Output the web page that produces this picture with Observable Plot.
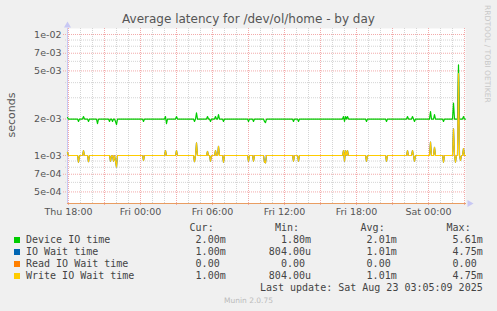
<!DOCTYPE html>
<html><head><meta charset="utf-8">
<script src="https://cdn.jsdelivr.net/npm/d3@7"></script>
<script src="https://cdn.jsdelivr.net/npm/@observablehq/plot@0.6"></script>
<style>
html,body{margin:0;padding:0;background:#f0f0f0;}
#chart{position:relative;width:497px;height:311px;overflow:hidden;background:#f0f0f0;font-family:"DejaVu Sans",sans-serif;}
.abs{position:absolute;white-space:pre;}
.mono{font-family:"DejaVu Sans Mono",monospace;font-size:10px;line-height:12px;color:#444;}
#chart svg{position:absolute;left:0;top:0;}
</style></head><body><div id="chart"></div>
<script>
// ---------- texts ----------
const title = "Average latency for /dev/ol/home - by day";
const yLabel = "seconds";
const credit = "RRDTOOL / TOBI OETIKER";
const footer = "Munin 2.0.75";
const lastUpdate = "Last update: Sat Aug 23 03:05:09 2025";

// ---------- time axis ----------
const startTime = "2025-08-21T17:55:00Z";   // first sample
const endTime = "2025-08-23T03:05:00Z";     // last sample
const stepMinutes = 5;
const xTickTimes = ["2025-08-21T18:00:00Z","2025-08-22T00:00:00Z","2025-08-22T06:00:00Z","2025-08-22T12:00:00Z","2025-08-22T18:00:00Z","2025-08-23T00:00:00Z"];
const xTickLabels = ["Thu 18:00","Fri 00:00","Fri 06:00","Fri 12:00","Fri 18:00","Sat 00:00"];

// ---------- value axis (log) ----------
const yTickValues = [1e-2, 7e-3, 5e-3, 2e-3, 1e-3, 7e-4, 5e-4];
const yTickLabels = ["1e-02","7e-03","5e-03","2e-03","1e-03","7e-04","5e-04"];
const yMinorValues = [9e-3, 8e-3, 6e-3, 4e-3, 3e-3, 9e-4, 8e-4, 6e-4];

// ---------- legend ----------
const seriesNames = ["Device IO time","IO Wait time","Read IO Wait time","Write IO Wait time"];
const seriesColors = ["#00CC00","#0066B3","#FF8000","#FFCC00"];
const curVals = ["2.00m","1.00m","0.00 ","1.00m"];
const minVals = ["1.80m","804.00u","0.00 ","804.00u"];
const avgVals = ["2.01m","1.01m","0.00 ","1.01m"];
const maxVals = ["5.61m","4.75m","0.00 ","4.75m"];

// ---------- series: [sample index (5 min steps from start), milliseconds] ----------
const deviceIO = [[0,2.06],[1,2.00],[10,2.00],[11,1.91],[12,2.00],[15,2.00],[16,2.10],[17,2.00],[20,2.00],[21,1.91],[22,2.00],[29,2.00],[30,1.83],[31,2.00],[41,2.00],[42,1.91],[43,2.00],[44,2.00],[45,1.91],[46,2.00],[47,2.00],[48,1.91],[49,1.80],[50,2.00],[75,2.00],[76,1.91],[77,2.00],[97,2.00],[98,2.10],[99,1.83],[100,2.00],[108,2.00],[109,2.10],[110,2.00],[126,2.00],[127,1.91],[128,2.00],[129,2.25],[130,2.00],[139,2.00],[140,2.10],[141,2.00],[142,2.00],[143,1.91],[144,2.00],[147,2.00],[148,2.10],[149,2.00],[150,2.00],[151,2.18],[152,2.00],[155,2.00],[156,1.91],[157,2.00],[180,2.00],[181,1.91],[182,2.00],[185,2.00],[186,1.91],[187,2.00],[196,2.00],[197,1.91],[198,1.87],[199,2.00],[225,2.00],[226,1.91],[227,2.00],[230,2.00],[231,1.91],[232,2.00],[275,2.00],[276,2.10],[277,1.91],[278,2.10],[279,2.00],[280,2.10],[281,2.00],[298,2.00],[299,1.91],[300,2.00],[318,2.00],[319,1.91],[320,2.00],[339,2.00],[340,2.10],[341,2.00],[344,2.00],[345,2.10],[346,2.00],[347,1.91],[348,2.00],[362,2.00],[363,2.31],[364,2.00],[366,2.00],[367,2.18],[368,2.00],[375,2.00],[376,1.91],[377,2.00],[385,2.00],[386,2.71],[387,2.00],[390,2.00],[391,5.61],[392,2.00],[395,2.00],[396,2.10],[397,2.00],[398,2.00]];
const writeWait = [[0,1.06],[1,1.00],[10,1.00],[11,0.88],[12,1.00],[15,1.00],[16,1.10],[17,1.00],[20,1.00],[21,0.89],[22,1.00],[42,1.00],[43,0.90],[44,1.00],[45,1.00],[46,0.90],[47,1.00],[48,0.90],[49,0.804],[50,1.00],[75,1.00],[76,0.91],[77,1.00],[97,1.00],[98,1.10],[99,1.00],[108,1.00],[109,1.10],[110,1.00],[126,1.00],[127,0.89],[128,1.00],[129,1.27],[130,1.00],[139,1.00],[140,1.08],[141,1.00],[142,1.00],[143,0.90],[144,1.00],[147,1.00],[148,1.10],[149,1.00],[150,1.00],[151,1.19],[152,1.00],[155,1.00],[156,0.88],[157,1.00],[180,1.00],[181,0.90],[182,1.00],[185,1.00],[186,0.90],[187,1.00],[196,1.00],[197,0.88],[198,0.87],[199,1.00],[225,1.00],[226,0.90],[227,1.00],[230,1.00],[231,0.90],[232,1.00],[275,1.00],[276,1.10],[277,0.90],[278,1.10],[279,1.00],[280,1.10],[281,1.00],[298,1.00],[299,0.90],[300,1.00],[318,1.00],[319,0.90],[320,1.00],[339,1.00],[340,1.10],[341,1.00],[344,1.00],[345,1.10],[346,1.00],[347,0.90],[348,1.00],[362,1.00],[363,1.29],[364,1.00],[366,1.00],[367,1.17],[368,1.00],[375,1.00],[376,0.88],[377,1.00],[385,1.00],[386,1.66],[387,1.00],[388,0.88],[389,1.00],[390,1.00],[391,4.75],[392,1.00],[393,0.91],[394,1.00],[395,1.00],[396,1.14],[397,1.00],[398,1.00]];
const readWait = [[0,0],[398,0]];
const ioWait = writeWait; // read wait is 0, so IO wait equals write wait

// ---------- build ----------
const t0 = Date.parse(startTime);
const toRows = pairs => pairs.map(([s, ms]) => ({t: new Date(t0 + s * stepMinutes * 60000), v: ms / 1000}));
const hours = d3.utcHour.range(new Date("2025-08-21T18:00:00Z"), new Date(endTime));
const majorHours = hours.filter(d => d.getUTCHours() % 3 === 0);
const minorHours = hours.filter(d => d.getUTCHours() % 3 !== 0);
const xTicks = xTickTimes.map(d => new Date(d));
const axisColor = "#c8c8f4";
const yLabelOf = d => yTickLabels[yTickValues.findIndex(v => Math.abs(v / d - 1) < 1e-6)] ?? "";
const xLabelOf = d => xTickLabels[xTicks.findIndex(e => Math.abs(+e - +d) < 1000)] ?? "";

const plot = Plot.plot({
  width: 497, height: 220,
  marginLeft: 67, marginRight: 32, marginTop: 28, marginBottom: 17,
  style: {background: "transparent", fontFamily: "DejaVu Sans", fontSize: "9.5px", color: "#555", overflow: "visible"},
  x: {type: "utc", domain: [new Date(startTime), new Date(endTime)]},
  y: {type: "log", domain: [4.012e-4, 1.1209e-2], clamp: true, axis: null},
  marks: [
    Plot.frame({fill: "white", stroke: null}),
    Plot.ruleX(minorHours, {stroke: "#d4d4d4", strokeDasharray: "1,1"}),
    Plot.ruleY(yMinorValues, {stroke: "#d4d4d4", strokeDasharray: "1,1", insetLeft: -2}),
    Plot.ruleX(majorHours, {stroke: "#f2aaaa", strokeDasharray: "1,1", insetBottom: -2}),
    Plot.ruleY(yTickValues, {stroke: "#f2aaaa", strokeDasharray: "1,1", insetLeft: -4}),
    Plot.text(yTickValues, {y: d => d, text: yLabelOf, frameAnchor: "left", textAnchor: "end", dx: -6, fill: "#555"}),
    Plot.axisX({ticks: xTicks, tickFormat: xLabelOf, tickSize: 0, tickPadding: 5, label: null, color: "#555"}),
    Plot.frame({anchor: "left", stroke: axisColor}),
    Plot.frame({anchor: "bottom", stroke: axisColor}),
    Plot.line(toRows(deviceIO), {x: "t", y: "v", stroke: seriesColors[0], strokeWidth: 1.2}),
    Plot.line(toRows(ioWait), {x: "t", y: "v", stroke: seriesColors[1], strokeWidth: 1.2}),
    Plot.line(toRows(readWait), {x: "t", y: "v", stroke: seriesColors[2], strokeWidth: 1.2, strokeOpacity: 0.6}),
    Plot.line(toRows(writeWait), {x: "t", y: "v", stroke: seriesColors[3], strokeWidth: 1.2}),
    Plot.dot([0], {frameAnchor: "top-left", symbol: "triangle", r: 2.6, fill: axisColor, stroke: null, dy: -3}),
    Plot.dot([0], {frameAnchor: "bottom-right", symbol: "triangle", rotate: 90, r: 2.6, fill: axisColor, stroke: null, dx: 4})
  ]
});

const chart = document.getElementById("chart");
chart.appendChild(plot);

function addDiv(text, css, cls) {
  const d = document.createElement("div");
  d.className = "abs " + (cls || "");
  d.textContent = text;
  Object.assign(d.style, css);
  chart.appendChild(d);
  return d;
}
// title
addDiv(title, {left: "0px", width: "497px", top: "12px", textAlign: "center", fontSize: "12px", lineHeight: "14px", color: "#555"});
// y label
addDiv(yLabel, {left: "11px", top: "114.5px", transform: "translate(-50%,-50%) rotate(-90deg)", fontSize: "11px", color: "#555"});
// credit
addDiv(credit, {left: "483px", top: "5px", writingMode: "vertical-rl", fontSize: "7.6px", lineHeight: "9px", color: "#c8c8c8"});
// legend
const headTop = 222, rowH = 12;
const colRight = [225.7, 311, 396.7, 482.7];
["Cur:","Min:","Avg:","Max:"].forEach((h, j) => addDiv(h + "  ", {right: (497 - colRight[j]) + "px", top: headTop + "px"}, "mono"));
seriesNames.forEach((name, i) => {
  const top = headTop + rowH * (i + 1);
  const sq = document.createElement("div");
  Object.assign(sq.style, {position: "absolute", left: "14px", top: (top + 3) + "px", width: "6px", height: "6px", background: seriesColors[i]});
  chart.appendChild(sq);
  addDiv(name, {left: "26px", top: top + "px"}, "mono");
  [curVals, minVals, avgVals, maxVals].forEach((vals, j) => addDiv(vals[i], {right: (497 - colRight[j]) + "px", top: top + "px"}, "mono"));
});
addDiv(lastUpdate, {right: (497 - 482.7) + "px", top: (headTop + rowH * 5) + "px"}, "mono");
addDiv(footer, {left: "0px", width: "497px", top: "296px", textAlign: "center", fontSize: "7.5px", lineHeight: "9px", color: "#bbb"});
</script></body></html>
